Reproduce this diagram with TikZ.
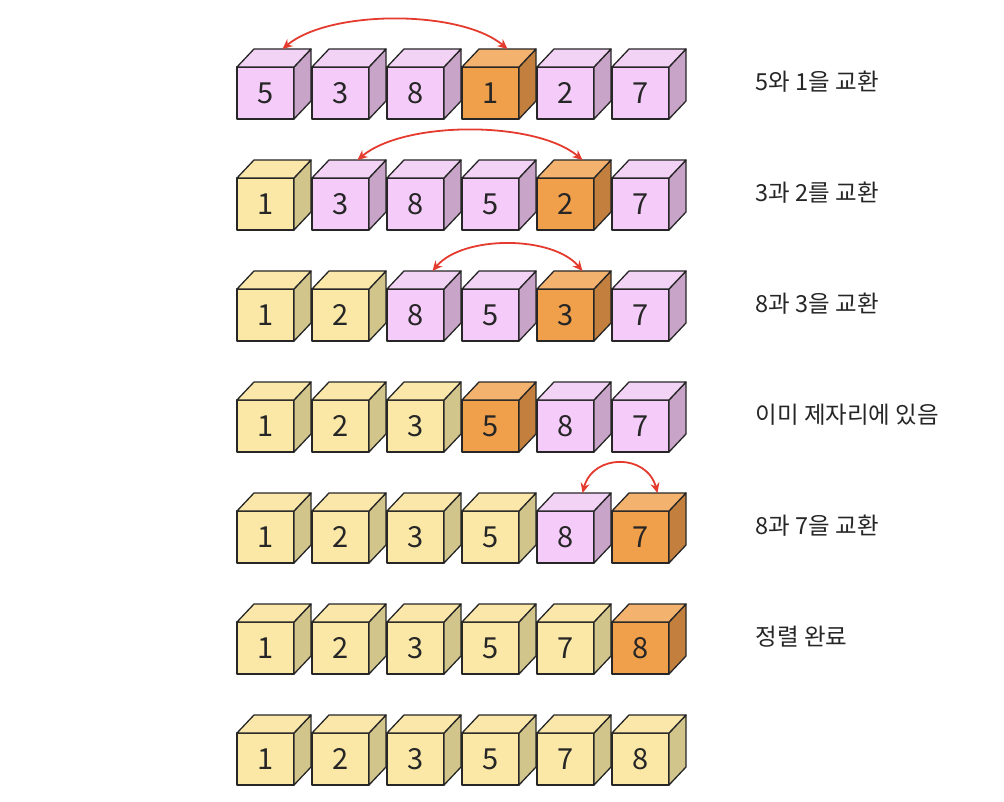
\documentclass[tikz,border=0pt]{standalone}
\usepackage{fontspec}
\setmainfont{Noto Sans CJK KR}
\usetikzlibrary{arrows.meta}
\definecolor{cubeFrontp}{HTML}{F5CCF9}
\definecolor{cubeTopp}{HTML}{F2D3F5}
\definecolor{cubeSidep}{HTML}{C9A4C9}
\definecolor{cubeFronto}{HTML}{F0A04B}
\definecolor{cubeTopo}{HTML}{F3B36F}
\definecolor{cubeSideo}{HTML}{C27F3D}
\definecolor{cubeFronty}{HTML}{FBE8A7}
\definecolor{cubeTopy}{HTML}{FAE7A9}
\definecolor{cubeSidey}{HTML}{D1C58B}
\definecolor{swapRed}{HTML}{E53A2E}
\tikzset{
  sort diagram/.style={
    x=1pt, y=-1pt, line join=round,
    baseline=(current bounding box.center)
  },
  cube face/.style={draw=black!85, line width=1.3pt},
  cube front/.style={cube face, minimum width=57pt, minimum height=52pt,
    inner sep=0pt, outer sep=0pt, text=black!85,
    font=\fontsize{29}{34}\selectfont},
  swap arrow/.style={draw=swapRed, line width=1.8pt,
    {Stealth[length=10pt,width=9pt]}-{Stealth[length=10pt,width=9pt]}},
  step label/.style={anchor=west, text=black!85,
    font=\fontsize{23.5}{28}\selectfont}
}
% front face is the node, side and top are drawn on its anchors
\newcommand{\SortCube}[5]{%
  \node[cube front, fill=cubeFront#5] (#1) at (#2,#3) {#4};
  \draw[cube face, fill=cubeSide#5] (#1.north east) -- ++(17,-18) -- ++(0,52)
    -- (#1.south east) -- cycle;
  \draw[cube face, fill=cubeTop#5] (#1.north west) -- ++(17,-18) -- ++(57,0)
    -- (#1.north east) -- cycle;
  \coordinate (#1t) at ([shift={(17,-18)}]#1.north);
}

\begin{document}
\begin{tikzpicture}[sort diagram]
    \useasboundingbox (0,0) rectangle (1004,802);
    % rows of cubes: value/colour
    \foreach \r/\row in {
        1/{5/p,3/p,8/p,1/o,2/p,7/p},
        2/{1/y,3/p,8/p,5/p,2/o,7/p},
        3/{1/y,2/y,8/p,5/p,3/o,7/p},
        4/{1/y,2/y,3/y,5/o,8/p,7/p},
        5/{1/y,2/y,3/y,5/y,8/p,7/o},
        6/{1/y,2/y,3/y,5/y,7/y,8/o},
        7/{1/y,2/y,3/y,5/y,7/y,8/y}} {
      \foreach \v/\col [count=\i] in \row {
        \pgfmathsetmacro{\cx}{265.5+75*(\i-1)}
        \pgfmathsetmacro{\cy}{93+111*(\r-1)}
        \SortCube{c\r-\i}{\cx}{\cy}{\v}{\col}
      }
    }
    % swaps
    \draw[swap arrow] (c1-1t) to[out=40,in=140,looseness=0.7] (c1-4t);
    \draw[swap arrow] (c2-2t) to[out=40,in=140,looseness=0.7] (c2-5t);
    \draw[swap arrow] (c3-3t) to[out=50,in=130,looseness=0.8] (c3-5t);
    \draw[swap arrow] (c5-5t) to[out=75,in=105,looseness=1.4] (c5-6t);
    % step texts
    \foreach \r/\txt in {1/5와 1을 교환, 2/3과 2를 교환, 3/8과 3을 교환,
        4/이미 제자리에 있음, 5/8과 7을 교환, 6/정렬 완료} {
      \pgfmathsetmacro{\ly}{82+111*(\r-1)}
      \node[step label] (l\r) at (752,\ly) {\txt};
    }
\end{tikzpicture}
\end{document}
